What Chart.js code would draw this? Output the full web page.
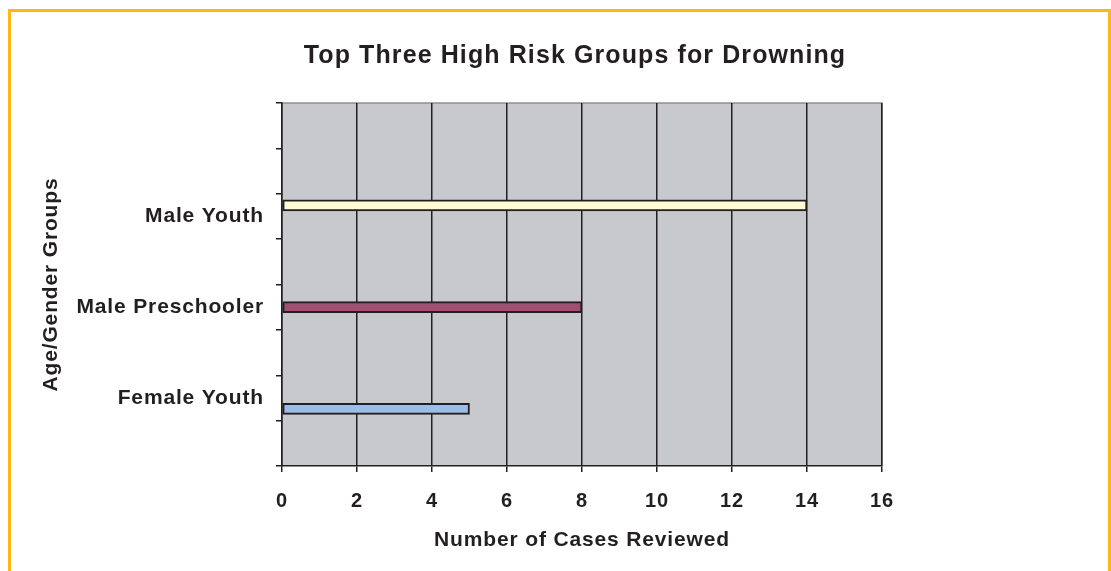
<!DOCTYPE html>
<html>
<head>
<meta charset="utf-8">
<script src="https://cdn.jsdelivr.net/npm/chart.js@4"></script>
<style>
  html, body { margin: 0; padding: 0; background: #fff; }
  #wrap { position: relative; width: 1111px; height: 571px; overflow: hidden; }
  #frame { position: absolute; left: 8px; top: 9px; width: 1103px; height: 600px;
           border: 3px solid #FDB913; box-sizing: border-box; }
  canvas { position: absolute; left: 0; top: 0; }
</style>
</head>
<body>
<div id="wrap">
  <div id="frame"></div>
  <canvas id="DrowningChart" width="1111" height="571"></canvas>
</div>
<script>
// categories down the value axis (8 tick slots, three of them labelled)
const groups = ['', '', 'Male Youth', '', 'Male Preschooler', '', 'Female Youth', ''];
const maleYouth = [null, null, 14, null, null, null, null, null];
const malePreschooler = [null, null, null, null, 8, null, null, null];
const femaleYouth = [null, null, null, null, null, null, 5, null];
const xTicks = [0, 2, 4, 6, 8, 10, 12, 14, 16];
const chartTitle = 'Top Three High Risk Groups for Drowning';

const fontFam = '"Liberation Sans", Arial, sans-serif';
const ink = '#231f20';

// gray plot area, thin gray top/right edge, loose letter spacing like the original
const plotBg = {
    id: 'plotBg',
    beforeDraw(chart) {
        const {ctx, chartArea: a} = chart;
        ctx.letterSpacing = '0.85px';
        ctx.save();
        ctx.fillStyle = '#c8c9cd';
        ctx.fillRect(a.left, a.top, a.right - a.left, a.bottom - a.top);
        ctx.strokeStyle = '#8e8e8e';
        ctx.lineWidth = 1.5;
        ctx.beginPath();
        ctx.moveTo(a.left, a.top);
        ctx.lineTo(a.right, a.top);
        ctx.lineTo(a.right, a.bottom);
        ctx.stroke();
        ctx.restore();
    },
    afterDraw(chart) {
        const ctx = chart.ctx;
        ctx.save();
        ctx.letterSpacing = '1.1px';
        ctx.font = 'bold 25px ' + fontFam;
        ctx.fillStyle = ink;
        ctx.textAlign = 'center';
        ctx.textBaseline = 'middle';
        ctx.fillText(chartTitle, 575, 56);
        ctx.restore();
    }
};

let ctx = document.getElementById('DrowningChart').getContext('2d');
let drowningChart = new Chart(ctx, {
    type: 'bar',
    data: {
        labels: groups,
        datasets: [
            {label: 'Male Youth', data: maleYouth, backgroundColor: '#fffdd4', borderColor: ink, borderWidth: 2, borderSkipped: false},
            {label: 'Male Preschooler', data: malePreschooler, backgroundColor: '#a24f74', borderColor: ink, borderWidth: 2, borderSkipped: false},
            {label: 'Female Youth', data: femaleYouth, backgroundColor: '#9bbde6', borderColor: ink, borderWidth: 2, borderSkipped: false}
        ]
    },
    options: {
        indexAxis: 'y',
        responsive: false,
        animation: false,
        barThickness: 11,
        layout: {padding: {left: 0, right: 229, top: 103, bottom: 0}},
        scales: {
            x: {
                min: 0,
                max: 16,
                afterBuildTicks: s => { s.ticks = xTicks.map(v => ({value: v})); },
                afterFit: s => { s.height = 105; },
                grid: {color: ink, lineWidth: 1.5, tickLength: 6, tickColor: ink},
                border: {color: ink, width: 1.5},
                ticks: {color: ink, padding: 17, font: {family: fontFam, size: 20, weight: 'bold'}},
                title: {
                    display: true,
                    text: 'Number of Cases Reviewed',
                    color: ink,
                    font: {family: fontFam, size: 21, weight: 'bold'},
                    padding: {top: 0, bottom: 18}
                }
            },
            y: {
                afterFit: s => { s.width = 282; },
                grid: {drawOnChartArea: false, color: ink, lineWidth: 1.5, tickLength: 6, offset: true},
                border: {color: ink, width: 1.5},
                ticks: {color: ink, padding: 12, autoSkip: false, font: {family: fontFam, size: 21, weight: 'bold'}},
                title: {
                    display: true,
                    text: 'Age/Gender Groups',
                    color: ink,
                    font: {family: fontFam, size: 21, weight: 'bold'},
                    padding: {top: 39, bottom: 0}
                }
            }
        },
        plugins: {
            legend: {display: false},
            tooltip: {enabled: false},
            title: {display: false}
        }
    },
    plugins: [plotBg]
});
</script>
</body>
</html>
